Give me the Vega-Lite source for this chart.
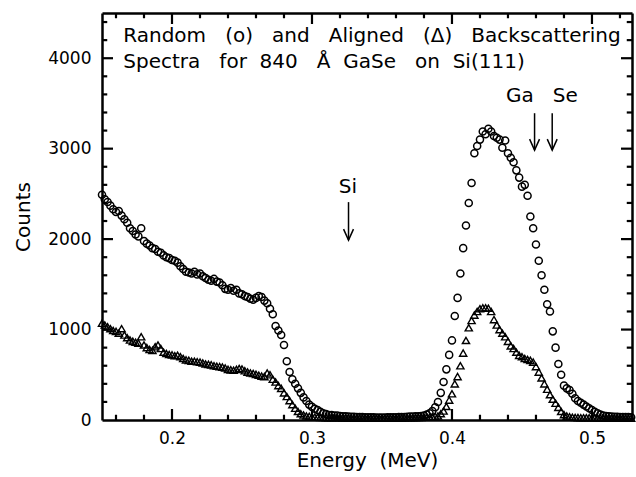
{
  "$schema": "https://vega.github.io/schema/vega-lite/v6.json",
  "width": 530,
  "height": 407,
  "autosize": {"type": "none"},
  "padding": {"left": 102, "top": 13, "right": 4, "bottom": 57},
  "background": "white",
  "config": {
    "view": {"stroke": null},
    "font": "DejaVu Sans",
    "axis": {
      "grid": false,
      "domainColor": "black",
      "domainWidth": 2.5,
      "labelFont": "DejaVu Sans",
      "labelFontSize": 17,
      "labelColor": "black",
      "titleFont": "DejaVu Sans",
      "titleFontSize": 20,
      "titleFontWeight": "normal",
      "titleColor": "black",
      "labelOverlap": false,
      "labelFlush": false
    }
  },
  "datasets": {
    "random": [
      {"e":0.150,"c":2490},{"e":0.152,"c":2440},{"e":0.154,"c":2410},{"e":0.156,"c":2370},{"e":0.158,"c":2330},
      {"e":0.160,"c":2300},{"e":0.162,"c":2310},{"e":0.164,"c":2260},{"e":0.166,"c":2220},{"e":0.168,"c":2180},
      {"e":0.170,"c":2120},{"e":0.172,"c":2090},{"e":0.174,"c":2050},{"e":0.176,"c":2030},{"e":0.178,"c":2120},
      {"e":0.180,"c":1980},{"e":0.182,"c":1950},{"e":0.184,"c":1930},{"e":0.186,"c":1900},{"e":0.188,"c":1890},
      {"e":0.190,"c":1860},{"e":0.192,"c":1850},{"e":0.194,"c":1820},{"e":0.196,"c":1800},{"e":0.198,"c":1790},
      {"e":0.200,"c":1770},{"e":0.202,"c":1760},{"e":0.204,"c":1740},{"e":0.206,"c":1700},{"e":0.208,"c":1670},
      {"e":0.210,"c":1640},{"e":0.212,"c":1630},{"e":0.214,"c":1620},{"e":0.216,"c":1640},{"e":0.218,"c":1610},
      {"e":0.220,"c":1620},{"e":0.222,"c":1590},{"e":0.224,"c":1570},{"e":0.226,"c":1550},{"e":0.228,"c":1540},
      {"e":0.230,"c":1560},{"e":0.232,"c":1530},{"e":0.234,"c":1520},{"e":0.236,"c":1490},{"e":0.238,"c":1450},
      {"e":0.240,"c":1440},{"e":0.242,"c":1460},{"e":0.244,"c":1430},{"e":0.246,"c":1440},{"e":0.248,"c":1400},
      {"e":0.250,"c":1390},{"e":0.252,"c":1370},{"e":0.254,"c":1360},{"e":0.256,"c":1340},{"e":0.258,"c":1330},
      {"e":0.260,"c":1350},{"e":0.262,"c":1370},{"e":0.264,"c":1360},{"e":0.266,"c":1320},{"e":0.268,"c":1290},
      {"e":0.270,"c":1230},{"e":0.272,"c":1170},{"e":0.274,"c":1040},{"e":0.276,"c":990},{"e":0.278,"c":940},
      {"e":0.280,"c":830},{"e":0.282,"c":650},{"e":0.284,"c":530},{"e":0.286,"c":450},{"e":0.288,"c":400},
      {"e":0.290,"c":350},{"e":0.292,"c":300},{"e":0.294,"c":250},{"e":0.296,"c":210},{"e":0.298,"c":170},
      {"e":0.300,"c":145},{"e":0.302,"c":125},{"e":0.304,"c":110},{"e":0.306,"c":90},{"e":0.308,"c":75},
      {"e":0.310,"c":65},{"e":0.312,"c":55},{"e":0.314,"c":55},{"e":0.316,"c":50},{"e":0.318,"c":48},
      {"e":0.320,"c":45},{"e":0.322,"c":42},{"e":0.324,"c":40},{"e":0.326,"c":38},{"e":0.328,"c":36},
      {"e":0.330,"c":35},{"e":0.332,"c":34},{"e":0.334,"c":33},{"e":0.336,"c":32},{"e":0.338,"c":31},
      {"e":0.340,"c":30},{"e":0.342,"c":30},{"e":0.344,"c":29},{"e":0.346,"c":28},{"e":0.348,"c":28},
      {"e":0.350,"c":27},{"e":0.352,"c":28},{"e":0.354,"c":29},{"e":0.356,"c":30},{"e":0.358,"c":30},
      {"e":0.360,"c":31},{"e":0.362,"c":32},{"e":0.364,"c":33},{"e":0.366,"c":34},{"e":0.368,"c":36},
      {"e":0.370,"c":37},{"e":0.372,"c":38},{"e":0.374,"c":40},{"e":0.376,"c":42},{"e":0.378,"c":45},
      {"e":0.380,"c":50},{"e":0.382,"c":60},{"e":0.384,"c":75},{"e":0.386,"c":100},{"e":0.388,"c":140},
      {"e":0.390,"c":200},{"e":0.392,"c":300},{"e":0.394,"c":420},{"e":0.396,"c":560},{"e":0.398,"c":720},
      {"e":0.400,"c":880},{"e":0.402,"c":1150},{"e":0.404,"c":1350},{"e":0.406,"c":1620},{"e":0.408,"c":1900},
      {"e":0.410,"c":2150},{"e":0.412,"c":2400},{"e":0.414,"c":2620},{"e":0.416,"c":2950},{"e":0.418,"c":3030},
      {"e":0.420,"c":3100},{"e":0.422,"c":3190},{"e":0.424,"c":3160},{"e":0.426,"c":3220},{"e":0.428,"c":3190},
      {"e":0.430,"c":3140},{"e":0.432,"c":3120},{"e":0.434,"c":3100},{"e":0.436,"c":3010},{"e":0.438,"c":3090},
      {"e":0.440,"c":2950},{"e":0.442,"c":2900},{"e":0.444,"c":2850},{"e":0.446,"c":2760},{"e":0.448,"c":2680},
      {"e":0.450,"c":2580},{"e":0.452,"c":2600},{"e":0.454,"c":2480},{"e":0.456,"c":2250},{"e":0.458,"c":2120},
      {"e":0.460,"c":1940},{"e":0.462,"c":1760},{"e":0.464,"c":1600},{"e":0.466,"c":1440},{"e":0.468,"c":1280},
      {"e":0.470,"c":1200},{"e":0.472,"c":980},{"e":0.474,"c":800},{"e":0.476,"c":620},{"e":0.478,"c":500},
      {"e":0.480,"c":380},{"e":0.482,"c":350},{"e":0.484,"c":330},{"e":0.486,"c":290},{"e":0.488,"c":240},
      {"e":0.490,"c":210},{"e":0.492,"c":190},{"e":0.494,"c":170},{"e":0.496,"c":150},{"e":0.498,"c":130},
      {"e":0.500,"c":110},{"e":0.502,"c":90},{"e":0.504,"c":75},{"e":0.506,"c":60},{"e":0.508,"c":50},
      {"e":0.510,"c":45},{"e":0.512,"c":40},{"e":0.514,"c":38},{"e":0.516,"c":36},{"e":0.518,"c":35},
      {"e":0.520,"c":34},{"e":0.522,"c":33},{"e":0.524,"c":32},{"e":0.526,"c":32},{"e":0.528,"c":31}
    ],
    "aligned": [
      {"e":0.150,"c":1070},{"e":0.152,"c":1050},{"e":0.154,"c":1030},{"e":0.156,"c":1010},{"e":0.158,"c":990},
      {"e":0.160,"c":980},{"e":0.162,"c":960},{"e":0.164,"c":1010},{"e":0.166,"c":940},{"e":0.168,"c":910},
      {"e":0.170,"c":885},{"e":0.172,"c":870},{"e":0.174,"c":860},{"e":0.176,"c":850},{"e":0.178,"c":920},
      {"e":0.180,"c":830},{"e":0.182,"c":800},{"e":0.184,"c":780},{"e":0.186,"c":770},{"e":0.188,"c":810},
      {"e":0.190,"c":830},{"e":0.192,"c":790},{"e":0.194,"c":750},{"e":0.196,"c":735},{"e":0.198,"c":725},
      {"e":0.200,"c":720},{"e":0.202,"c":710},{"e":0.204,"c":715},{"e":0.206,"c":700},{"e":0.208,"c":680},
      {"e":0.210,"c":665},{"e":0.212,"c":660},{"e":0.214,"c":650},{"e":0.216,"c":650},{"e":0.218,"c":645},
      {"e":0.220,"c":640},{"e":0.222,"c":630},{"e":0.224,"c":620},{"e":0.226,"c":615},{"e":0.228,"c":610},
      {"e":0.230,"c":600},{"e":0.232,"c":595},{"e":0.234,"c":590},{"e":0.236,"c":585},{"e":0.238,"c":575},
      {"e":0.240,"c":560},{"e":0.242,"c":555},{"e":0.244,"c":550},{"e":0.246,"c":560},{"e":0.248,"c":570},
      {"e":0.250,"c":565},{"e":0.252,"c":545},{"e":0.254,"c":530},{"e":0.256,"c":520},{"e":0.258,"c":515},
      {"e":0.260,"c":505},{"e":0.262,"c":495},{"e":0.264,"c":485},{"e":0.266,"c":480},{"e":0.268,"c":520},
      {"e":0.270,"c":500},{"e":0.272,"c":450},{"e":0.274,"c":420},{"e":0.276,"c":380},{"e":0.278,"c":350},
      {"e":0.280,"c":300},{"e":0.282,"c":260},{"e":0.284,"c":215},{"e":0.286,"c":170},{"e":0.288,"c":130},
      {"e":0.290,"c":95},{"e":0.292,"c":70},{"e":0.294,"c":55},{"e":0.296,"c":45},{"e":0.298,"c":40},
      {"e":0.300,"c":35},{"e":0.302,"c":32},{"e":0.304,"c":30},{"e":0.306,"c":29},{"e":0.308,"c":28},
      {"e":0.310,"c":27},{"e":0.312,"c":26},{"e":0.314,"c":26},{"e":0.316,"c":25},{"e":0.318,"c":25},
      {"e":0.320,"c":25},{"e":0.322,"c":24},{"e":0.324,"c":24},{"e":0.326,"c":24},{"e":0.328,"c":23},
      {"e":0.330,"c":23},{"e":0.332,"c":23},{"e":0.334,"c":22},{"e":0.336,"c":22},{"e":0.338,"c":22},
      {"e":0.340,"c":22},{"e":0.342,"c":22},{"e":0.344,"c":22},{"e":0.346,"c":22},{"e":0.348,"c":22},
      {"e":0.350,"c":22},{"e":0.352,"c":22},{"e":0.354,"c":22},{"e":0.356,"c":23},{"e":0.358,"c":23},
      {"e":0.360,"c":23},{"e":0.362,"c":24},{"e":0.364,"c":24},{"e":0.366,"c":24},{"e":0.368,"c":25},
      {"e":0.370,"c":25},{"e":0.372,"c":26},{"e":0.374,"c":27},{"e":0.376,"c":28},{"e":0.378,"c":29},
      {"e":0.380,"c":30},{"e":0.382,"c":32},{"e":0.384,"c":34},{"e":0.386,"c":37},{"e":0.388,"c":40},
      {"e":0.390,"c":45},{"e":0.392,"c":70},{"e":0.394,"c":100},{"e":0.396,"c":150},{"e":0.398,"c":220},
      {"e":0.400,"c":290},{"e":0.402,"c":400},{"e":0.404,"c":480},{"e":0.406,"c":600},{"e":0.408,"c":740},
      {"e":0.410,"c":880},{"e":0.412,"c":1020},{"e":0.414,"c":1100},{"e":0.416,"c":1160},{"e":0.418,"c":1200},
      {"e":0.420,"c":1230},{"e":0.422,"c":1240},{"e":0.424,"c":1240},{"e":0.426,"c":1235},{"e":0.428,"c":1200},
      {"e":0.430,"c":1110},{"e":0.432,"c":1050},{"e":0.434,"c":1000},{"e":0.436,"c":960},{"e":0.438,"c":920},
      {"e":0.440,"c":870},{"e":0.442,"c":820},{"e":0.444,"c":790},{"e":0.446,"c":750},{"e":0.448,"c":715},
      {"e":0.450,"c":700},{"e":0.452,"c":680},{"e":0.454,"c":670},{"e":0.456,"c":660},{"e":0.458,"c":640},
      {"e":0.460,"c":590},{"e":0.462,"c":530},{"e":0.464,"c":465},{"e":0.466,"c":400},{"e":0.468,"c":340},
      {"e":0.470,"c":280},{"e":0.472,"c":230},{"e":0.474,"c":185},{"e":0.476,"c":140},{"e":0.478,"c":95},
      {"e":0.480,"c":60},{"e":0.482,"c":45},{"e":0.484,"c":35},{"e":0.486,"c":30},{"e":0.488,"c":28},
      {"e":0.490,"c":27},{"e":0.492,"c":26},{"e":0.494,"c":26},{"e":0.496,"c":25},{"e":0.498,"c":25},
      {"e":0.500,"c":25},{"e":0.502,"c":24},{"e":0.504,"c":24},{"e":0.506,"c":24},{"e":0.508,"c":23},
      {"e":0.510,"c":23},{"e":0.512,"c":23},{"e":0.514,"c":22},{"e":0.516,"c":22},{"e":0.518,"c":22},
      {"e":0.520,"c":22},{"e":0.522,"c":22},{"e":0.524,"c":21},{"e":0.526,"c":21},{"e":0.528,"c":21}
    ],
    "arrows": [
      {"el":"Si","e":0.3261,"top":2409,"bot":1989},
      {"el":"Ga","e":0.459,"top":3392,"bot":2984},
      {"el":"Se","e":0.4716,"top":3392,"bot":2984}
    ],
    "labels": [
      {"t":"Si","e":0.3256,"c":2508},
      {"t":"Ga","e":0.4485,"c":3517},
      {"t":"Se","e":0.4809,"c":3517}
    ],
    "header": [
      {"t":"Random\u00a0\u00a0\u00a0(o)\u00a0\u00a0\u00a0and\u00a0\u00a0\u00a0Aligned\u00a0\u00a0\u00a0(Δ)\u00a0\u00a0\u00a0Backscattering","e":0.1652,"c":4180},
      {"t":"Spectra\u00a0\u00a0\u00a0for\u00a0\u00a0840\u00a0\u00a0\u00a0Å\u00a0\u00a0GaSe\u00a0\u00a0\u00a0on\u00a0\u00a0Si(111)","e":0.1652,"c":3890}
    ],
    "majorticks": [
      {"e":0.2,"c":0,"side":"b"},{"e":0.3,"c":0,"side":"b"},{"e":0.4,"c":0,"side":"b"},{"e":0.5,"c":0,"side":"b"},
      {"e":0.2,"c":4500,"side":"t"},{"e":0.3,"c":4500,"side":"t"},{"e":0.4,"c":4500,"side":"t"},{"e":0.5,"c":4500,"side":"t"},
      {"e":0.15,"c":1000,"side":"l"},{"e":0.15,"c":2000,"side":"l"},{"e":0.15,"c":3000,"side":"l"},{"e":0.15,"c":4000,"side":"l"},
      {"e":0.5286,"c":1000,"side":"r"},{"e":0.5286,"c":2000,"side":"r"},{"e":0.5286,"c":3000,"side":"r"},{"e":0.5286,"c":4000,"side":"r"}
    ],
    "minorticks": [
      {"e":0.16,"c":0,"side":"b"},{"e":0.18,"c":0,"side":"b"},{"e":0.22,"c":0,"side":"b"},{"e":0.24,"c":0,"side":"b"},{"e":0.26,"c":0,"side":"b"},
      {"e":0.28,"c":0,"side":"b"},{"e":0.32,"c":0,"side":"b"},{"e":0.34,"c":0,"side":"b"},{"e":0.36,"c":0,"side":"b"},{"e":0.38,"c":0,"side":"b"},
      {"e":0.42,"c":0,"side":"b"},{"e":0.44,"c":0,"side":"b"},{"e":0.46,"c":0,"side":"b"},{"e":0.48,"c":0,"side":"b"},{"e":0.52,"c":0,"side":"b"},
      {"e":0.16,"c":4500,"side":"t"},{"e":0.18,"c":4500,"side":"t"},{"e":0.22,"c":4500,"side":"t"},{"e":0.24,"c":4500,"side":"t"},{"e":0.26,"c":4500,"side":"t"},
      {"e":0.28,"c":4500,"side":"t"},{"e":0.32,"c":4500,"side":"t"},{"e":0.34,"c":4500,"side":"t"},{"e":0.36,"c":4500,"side":"t"},{"e":0.38,"c":4500,"side":"t"},
      {"e":0.42,"c":4500,"side":"t"},{"e":0.44,"c":4500,"side":"t"},{"e":0.46,"c":4500,"side":"t"},{"e":0.48,"c":4500,"side":"t"},{"e":0.52,"c":4500,"side":"t"},
      {"e":0.15,"c":200,"side":"l"},{"e":0.15,"c":400,"side":"l"},{"e":0.15,"c":600,"side":"l"},{"e":0.15,"c":800,"side":"l"},{"e":0.15,"c":1200,"side":"l"},
      {"e":0.15,"c":1400,"side":"l"},{"e":0.15,"c":1600,"side":"l"},{"e":0.15,"c":1800,"side":"l"},{"e":0.15,"c":2200,"side":"l"},{"e":0.15,"c":2400,"side":"l"},
      {"e":0.15,"c":2600,"side":"l"},{"e":0.15,"c":2800,"side":"l"},{"e":0.15,"c":3200,"side":"l"},{"e":0.15,"c":3400,"side":"l"},{"e":0.15,"c":3600,"side":"l"},
      {"e":0.15,"c":3800,"side":"l"},{"e":0.15,"c":4200,"side":"l"},{"e":0.15,"c":4400,"side":"l"},
      {"e":0.5286,"c":200,"side":"r"},{"e":0.5286,"c":400,"side":"r"},{"e":0.5286,"c":600,"side":"r"},{"e":0.5286,"c":800,"side":"r"},{"e":0.5286,"c":1200,"side":"r"},
      {"e":0.5286,"c":1400,"side":"r"},{"e":0.5286,"c":1600,"side":"r"},{"e":0.5286,"c":1800,"side":"r"},{"e":0.5286,"c":2200,"side":"r"},{"e":0.5286,"c":2400,"side":"r"},
      {"e":0.5286,"c":2600,"side":"r"},{"e":0.5286,"c":2800,"side":"r"},{"e":0.5286,"c":3200,"side":"r"},{"e":0.5286,"c":3400,"side":"r"},{"e":0.5286,"c":3600,"side":"r"},
      {"e":0.5286,"c":3800,"side":"r"},{"e":0.5286,"c":4200,"side":"r"},{"e":0.5286,"c":4400,"side":"r"}
    ]
  },
  "resolve": {"axis": {"x": "independent", "y": "independent"}},
  "layer": [
    {
      "data": {"name": "random"},
      "mark": {"type": "point", "shape": "circle", "filled": false, "color": "black", "size": 50, "strokeWidth": 1.5, "opacity": 1},
      "encoding": {
        "x": {"field": "e", "type": "quantitative", "scale": {"domain": [0.15, 0.5286], "nice": false, "zero": false},
          "axis": {"orient": "bottom", "title": "Energy\u00a0\u00a0(MeV)", "titlePadding": 4, "labelPadding": 10, "ticks": false,
            "values": [0.2, 0.3, 0.4, 0.5], "format": ".1f"}},
        "y": {"field": "c", "type": "quantitative", "scale": {"domain": [0, 4500], "nice": false},
          "axis": {"orient": "left", "title": "Counts", "titlePadding": 14, "labelPadding": 11, "ticks": false,
            "values": [0, 1000, 2000, 3000, 4000], "format": "d"}}
      }
    },
    {
      "data": {"name": "aligned"},
      "mark": {"type": "point", "shape": "triangle-up", "filled": false, "color": "black", "size": 52, "strokeWidth": 1.4, "opacity": 1},
      "encoding": {
        "x": {"field": "e", "type": "quantitative", "scale": {"domain": [0.15, 0.5286], "nice": false, "zero": false},
          "axis": {"orient": "top", "title": null, "labels": false, "ticks": false, "values": [0.2, 0.3, 0.4, 0.5]}},
        "y": {"field": "c", "type": "quantitative", "scale": {"domain": [0, 4500], "nice": false},
          "axis": {"orient": "right", "title": null, "labels": false, "ticks": false, "values": [0, 1000, 2000, 3000, 4000]}}
      }
    },
    {
      "data": {"name": "majorticks"},
      "mark": {"type": "point", "filled": false, "color": "black", "size": 484, "strokeWidth": 2.2, "opacity": 1, "strokeCap": "butt"},
      "encoding": {
        "x": {"field": "e", "type": "quantitative", "axis": null, "scale": {"domain": [0.15, 0.5286], "nice": false, "zero": false}},
        "y": {"field": "c", "type": "quantitative", "axis": null, "scale": {"domain": [0, 4500], "nice": false}},
        "shape": {"field": "side", "type": "nominal", "legend": null,
          "scale": {"domain": ["b", "t", "l", "r"], "range": ["M0,0L0,-1", "M0,0L0,1", "M0,0L1,0", "M0,0L-1,0"]}}
      }
    },
    {
      "data": {"name": "minorticks"},
      "mark": {"type": "point", "filled": false, "color": "black", "size": 110, "strokeWidth": 2.2, "opacity": 1, "strokeCap": "butt"},
      "encoding": {
        "x": {"field": "e", "type": "quantitative", "axis": null, "scale": {"domain": [0.15, 0.5286], "nice": false, "zero": false}},
        "y": {"field": "c", "type": "quantitative", "axis": null, "scale": {"domain": [0, 4500], "nice": false}},
        "shape": {"field": "side", "type": "nominal", "legend": null,
          "scale": {"domain": ["b", "t", "l", "r"], "range": ["M0,0L0,-1", "M0,0L0,1", "M0,0L1,0", "M0,0L-1,0"]}}
      }
    },
    {
      "data": {"name": "arrows"},
      "mark": {"type": "rule", "color": "black", "strokeWidth": 1.5},
      "encoding": {
        "x": {"field": "e", "type": "quantitative", "axis": null, "scale": {"domain": [0.15, 0.5286], "nice": false, "zero": false}},
        "y": {"field": "top", "type": "quantitative", "axis": null, "scale": {"domain": [0, 4500], "nice": false}},
        "y2": {"field": "bot"}
      }
    },
    {
      "data": {"name": "arrows"},
      "mark": {"type": "point", "shape": "M-0.45,-1L0,0L0.45,-1", "filled": false, "color": "black", "size": 484, "strokeWidth": 1.5, "opacity": 1},
      "encoding": {
        "x": {"field": "e", "type": "quantitative", "axis": null, "scale": {"domain": [0.15, 0.5286], "nice": false, "zero": false}},
        "y": {"field": "bot", "type": "quantitative", "axis": null, "scale": {"domain": [0, 4500], "nice": false}}
      }
    },
    {
      "data": {"name": "labels"},
      "mark": {"type": "text", "align": "center", "baseline": "alphabetic", "font": "DejaVu Sans", "fontSize": 20, "color": "black"},
      "encoding": {
        "x": {"field": "e", "type": "quantitative", "axis": null, "scale": {"domain": [0.15, 0.5286], "nice": false, "zero": false}},
        "y": {"field": "c", "type": "quantitative", "axis": null, "scale": {"domain": [0, 4500], "nice": false}},
        "text": {"field": "t"}
      }
    },
    {
      "data": {"name": "header"},
      "mark": {"type": "text", "align": "left", "baseline": "alphabetic", "font": "DejaVu Sans", "fontSize": 20, "color": "black"},
      "encoding": {
        "x": {"field": "e", "type": "quantitative", "axis": null, "scale": {"domain": [0.15, 0.5286], "nice": false, "zero": false}},
        "y": {"field": "c", "type": "quantitative", "axis": null, "scale": {"domain": [0, 4500], "nice": false}},
        "text": {"field": "t"}
      }
    }
  ]
}
